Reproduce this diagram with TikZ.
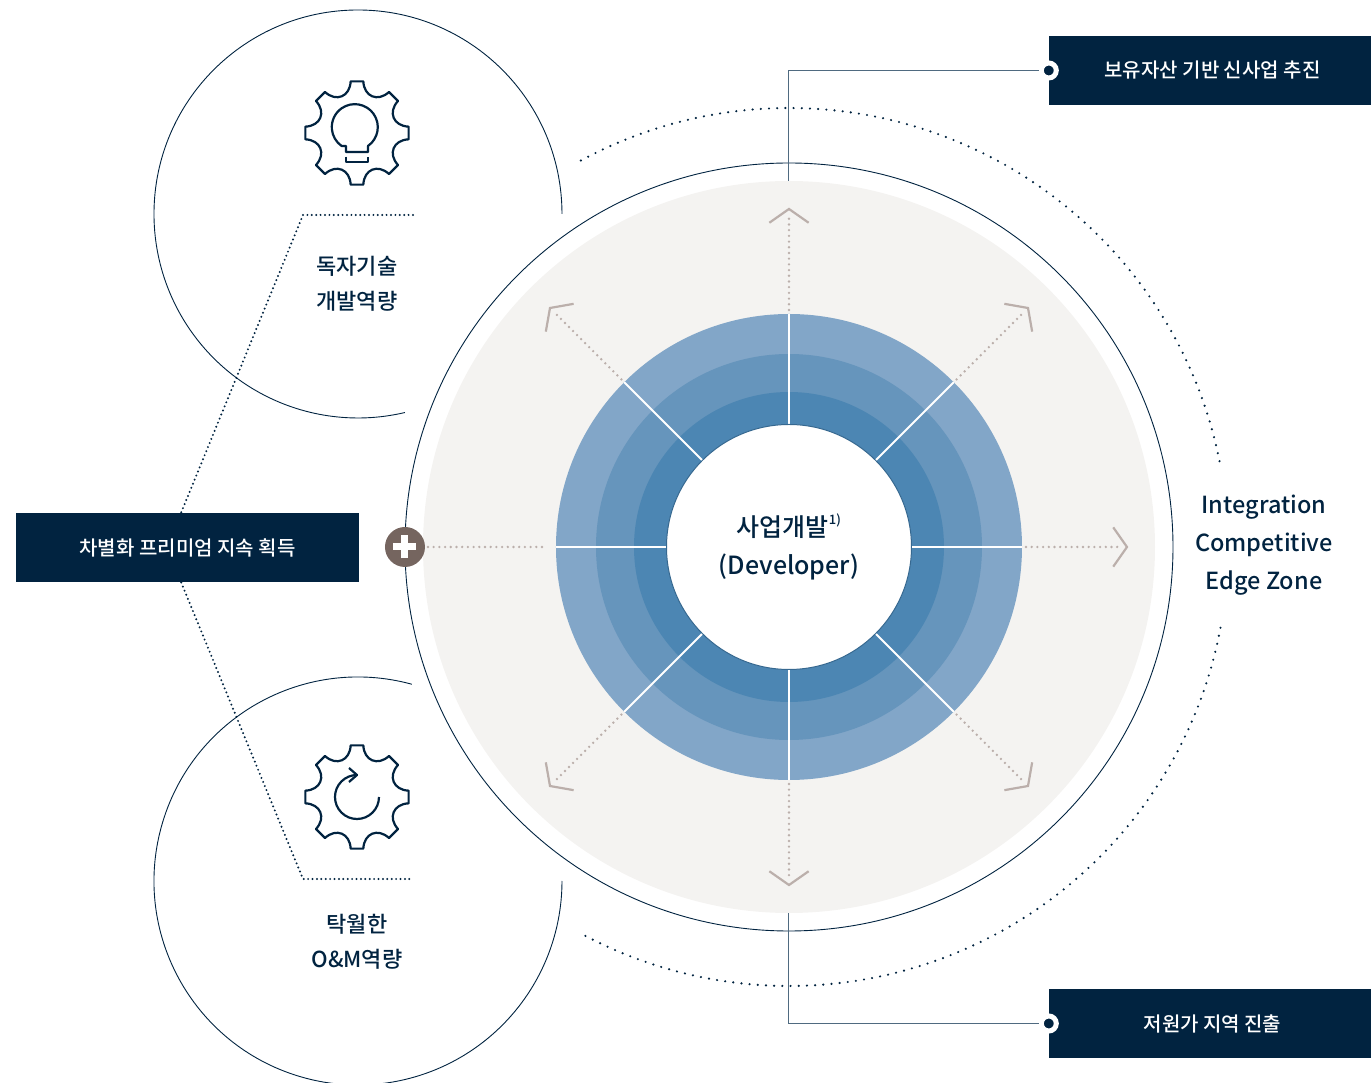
\documentclass[tikz,border=0pt]{standalone}
\usepackage{fontspec}
\setmainfont{Noto Sans CJK KR}[UprightFont=* Medium]
\usetikzlibrary{calc}
\definecolor{navy}{HTML}{012340}
\definecolor{discgray}{HTML}{F4F3F1}
\definecolor{ringa}{HTML}{82A6C8}
\definecolor{ringb}{HTML}{6695BC}
\definecolor{ringc}{HTML}{4C86B3}
\definecolor{taupe}{HTML}{75655F}
\definecolor{rose}{HTML}{BBAFAB}
\definecolor{linkgray}{HTML}{4F6A80}
\newcommand{\gearoutline}{%
  \draw[iconline](-7:52)\foreach\a in{0,45,...,315}{
    --(\a+7:52)..controls(\a+11:37)and(\a+34:37)..(\a+38:52)}--cycle;}

\begin{document}
\begin{tikzpicture}[x=1pt,y=1pt,
    every node/.style={inner sep=0pt,text=navy},
    thinline/.style={navy,line width=0.9pt},
    iconline/.style={navy,line width=2.2pt,line join=round},
    dotline/.style={navy,line width=2.4pt,line cap=round,dash pattern=on 0pt off 8.2pt},
    tightdots/.style={navy,line width=2.2pt,line cap=round,dash pattern=on 0pt off 4.4pt},
    rayline/.style={rose,line width=2.6pt,line cap=round,dash pattern=on 0pt off 5.7pt},
    chevron/.style={rose,line width=2.2pt,line join=miter},
    linkline/.style={linkgray,line width=1pt},
    spoke/.style={white,line width=2pt},
    darkbox/.style={fill=navy,text=white,minimum height=69pt,font=\fontsize{20}{24}\selectfont},
    portdot/.style={circle,fill=navy,draw=white,line width=5pt,minimum size=15pt},
    lefttext/.style={align=center,font=\fontsize{22}{35}\selectfont}]
  \useasboundingbox(-789,-536)rectangle(582,547);
  \fill[discgray](0,0)circle(366);
  \draw[thinline](0,0)circle(384);
  % dotted arcs
  \draw[dotline](118.3:439)arc[start angle=118.3,end angle=10.6,radius=439];
  \draw[dotline](-10.6:439)arc[start angle=-10.6,end angle=-118.3,radius=439];
  % rings
  \fill[ringa](0,0)circle(233);
  \fill[ringb](0,0)circle(193);
  \fill[ringc](0,0)circle(155);
  \foreach\a in{0,45,...,315}
    \draw[spoke](\a:120)--(\a:233);
  \node[circle,fill=white,draw=ringc!70!navy,line width=1pt,minimum size=245pt,
    align=center,font=\fontsize{25}{38}\selectfont](devcore)at(0,0)
    {사업개발\raisebox{0.45em}{\fontsize{13}{13}\selectfont 1)}\\(Developer)};
  % rays
  \foreach\a in{0,45,90,135,225,270,315}{
    \draw[rayline](\a:237)--(\a:333);
    \draw[chevron](\a:338)++(\a+125:24)--(\a:338)--++(\a-125:24);
  }
  \draw[rayline](-361,0)--(-243,0);
  % gear circles
  \begin{scope}[shift={(-431,333)}]
    \draw[thinline](0:204)arc[start angle=0,end angle=283.3,radius=204];
    \begin{scope}[shift={(-1,81)}]
      \gearoutline
      \draw[iconline](-11,-13)--(-11,-19)--(11,-19)--(11,-13)
        arc[start angle=-55,delta angle=290,radius=23]--cycle;
      \draw[iconline](-11,-23.7)--(-11,-28.7)--(11,-28.7)--(11,-23.7);
    \end{scope}
    \node[lefttext](topskill)at(-1,-69.5){독자기술\\개발역량};
  \end{scope}
  \begin{scope}[shift={(-431,-334)}]
    \draw[thinline](74.7:204)arc[start angle=74.7,end angle=360,radius=204];
    \begin{scope}[shift={(-1,84)}]
      \gearoutline
      \draw[iconline](22,0)arc[start angle=0,delta angle=-270,radius=22];
      \draw[iconline](-8,29)--(0,22)--(-8,15);
    \end{scope}
    \node[lefttext](lowskill)at(-1,-61){탁월한\\O\&M역량};
  \end{scope}
  % left dotted bracket
  \draw[tightdots](-376,332)--(-486,332)--(-608,34)--(-608,-35)--(-486,-332)--(-376,-332);
  \node[darkbox,minimum width=343pt](boxleft)at(-601.5,-0.5){차별화 프리미엄 지속 획득};
  \node[circle,fill=taupe,minimum size=40pt](plusbtn)at(-384,0){};
  \draw[white,line width=7pt](plusbtn.center)+(-11.5,0)--+(11.5,0)(plusbtn.center)+(0,-11.5)--+(0,11.5);
  % right boxes
  \node[darkbox,minimum width=322pt](boxtop)at(421,476.5){\hspace*{5pt}보유자산 기반 신사업 추진};
  \node[darkbox,minimum width=322pt](boxlow)at(421,-476.5){\hspace*{5pt}저원가 지역 진출};
  \node[portdot](dottop)at(boxtop.west){};
  \node[portdot](dotlow)at(boxlow.west){};
  \coordinate(toplink)at([xshift=-10pt]dottop.center);
  \coordinate(lowlink)at([xshift=-10pt]dotlow.center);
  \coordinate(topfoot)at(90:366);
  \coordinate(lowfoot)at(-90:366);
  \draw[linkline](toplink)-|(topfoot);
  \draw[linkline](lowlink)-|(lowfoot);
  \node[align=center,font=\fontsize{23.5}{38}\selectfont](edgezone)at(475,2)
    {Integration\\Competitive\\Edge Zone};
\end{tikzpicture}
\end{document}
